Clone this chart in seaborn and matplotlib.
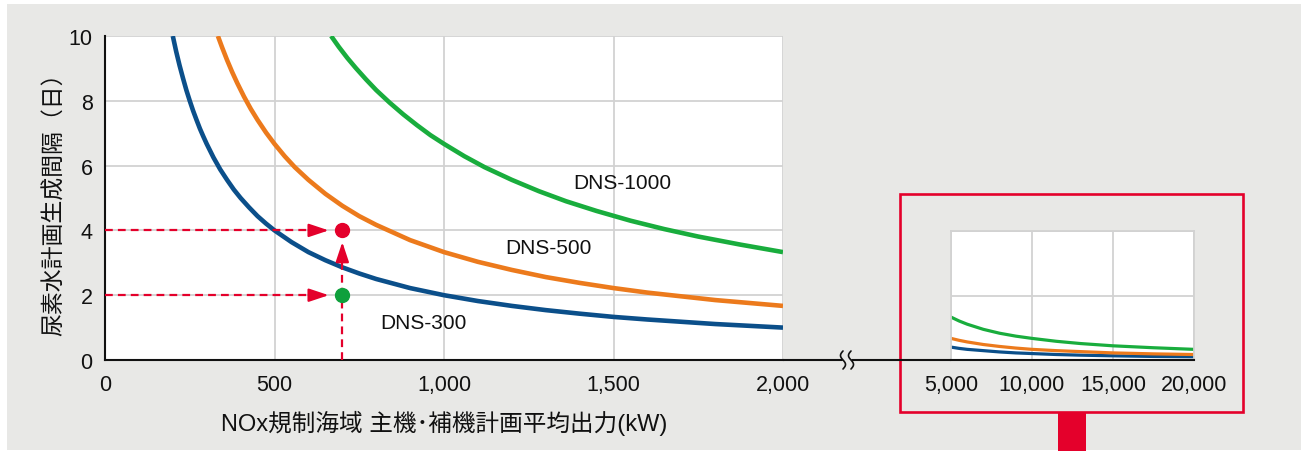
import numpy as np
import pandas as pd
import matplotlib
matplotlib.use('Agg')
import matplotlib.pyplot as plt
import seaborn as sns
from matplotlib.patches import Rectangle
from matplotlib.lines import Line2D
from matplotlib.ticker import FuncFormatter, MultipleLocator

# ==================== データ ====================
dns300_x = [200, 210, 220, 230, 240, 250, 260, 270, 280, 290, 300, 320, 340, 360, 380, 400, 425, 450, 475,
            500, 550, 600, 650, 700, 750, 800, 900, 1000, 1100, 1200, 1300, 1400, 1500, 1600, 1800, 2000]
dns300_y = [10.0, 9.52, 9.09, 8.70, 8.33, 8.0, 7.69, 7.41, 7.14, 6.90, 6.67, 6.25, 5.88, 5.56, 5.26, 5.0, 4.71, 4.44, 4.21,
            4.0, 3.64, 3.33, 3.08, 2.86, 2.67, 2.5, 2.22, 2.0, 1.82, 1.67, 1.54, 1.43, 1.33, 1.25, 1.11, 1.0]
dns500_x = [333, 345, 360, 375, 390, 410, 430, 450, 475, 500, 530, 560, 600, 650, 700, 750, 800, 900,
            1000, 1100, 1200, 1300, 1400, 1500, 1600, 1800, 2000]
dns500_y = [10.0, 9.66, 9.26, 8.89, 8.55, 8.13, 7.75, 7.41, 7.02, 6.67, 6.29, 5.95, 5.56, 5.13, 4.76, 4.44, 4.17, 3.70,
            3.33, 3.03, 2.78, 2.56, 2.38, 2.22, 2.08, 1.85, 1.67]
dns1000_x = [667, 690, 715, 740, 770, 800, 840, 880, 920, 960, 1000, 1060, 1120, 1200, 1280, 1360, 1450,
             1550, 1650, 1750, 1875, 2000]
dns1000_y = [10.0, 9.66, 9.32, 9.01, 8.66, 8.33, 7.94, 7.58, 7.25, 6.94, 6.67, 6.29, 5.95, 5.56, 5.21, 4.90, 4.60,
             4.30, 4.04, 3.81, 3.56, 3.33]

# 拡大部（5,000〜20,000 kW）
inset_x = [5000, 5500, 6000, 7000, 8000, 9000, 10000, 11500, 13000, 15000, 17500, 20000]
inset_300 = [0.40, 0.36, 0.33, 0.29, 0.25, 0.22, 0.20, 0.17, 0.15, 0.13, 0.11, 0.10]
inset_500 = [0.67, 0.61, 0.56, 0.48, 0.42, 0.37, 0.33, 0.29, 0.26, 0.22, 0.19, 0.17]
inset_1000 = [1.33, 1.21, 1.11, 0.95, 0.83, 0.74, 0.67, 0.58, 0.51, 0.44, 0.38, 0.33]

series_names = ['DNS-300', 'DNS-500', 'DNS-1000']
label_pos = {'DNS-300': (940, 1.17), 'DNS-500': (1307, 3.46), 'DNS-1000': (1527, 5.49)}

# 例：700 kW のとき DNS-300 → 2日、DNS-500 → 4日
example_kw = 700
example_days = [2, 4]

colors = {'DNS-300': '#0b4f8a', 'DNS-500': '#ec7a1c', 'DNS-1000': '#19ad3d'}
RED = '#e4002b'
GREEN_DOT = '#0fa03c'
BG = '#e8e8e6'

df_main = pd.concat([
    pd.DataFrame({'kw': dns300_x, 'days': dns300_y, 'model': 'DNS-300'}),
    pd.DataFrame({'kw': dns500_x, 'days': dns500_y, 'model': 'DNS-500'}),
    pd.DataFrame({'kw': dns1000_x, 'days': dns1000_y, 'model': 'DNS-1000'}),
], ignore_index=True)
df_inset = pd.concat([
    pd.DataFrame({'kw': inset_x, 'days': inset_300, 'model': 'DNS-300'}),
    pd.DataFrame({'kw': inset_x, 'days': inset_500, 'model': 'DNS-500'}),
    pd.DataFrame({'kw': inset_x, 'days': inset_1000, 'model': 'DNS-1000'}),
], ignore_index=True)

# ==================== スタイル ====================
sns.set_theme(style='white')
plt.rcParams['font.family'] = ['Liberation Sans', 'Noto Sans CJK JP', 'DejaVu Sans']
plt.rcParams['axes.unicode_minus'] = False

W, H = 1302, 452
fig = plt.figure(figsize=(W / 100, H / 100), dpi=100)
fig.patch.set_facecolor('white')

def fx(px):
    return px / W

def fy(py):
    return 1 - py / H

# 背景の灰色
fig.patches.append(Rectangle((fx(7), fy(451)), fx(1301) - fx(7), fy(5) - fy(451),
                             transform=fig.transFigure, facecolor=BG, edgecolor='none', zorder=-10))

# ==================== メイン ====================
ax = fig.add_axes([fx(105), fy(361), fx(783) - fx(105), fy(37) - fy(361)])
ax.set_facecolor('white')
sns.lineplot(data=df_main, x='kw', y='days', hue='model', hue_order=series_names,
             palette=colors, linewidth=3.3, legend=False, sort=False, ax=ax,
             solid_capstyle='butt', solid_joinstyle='round')
ax.set_xlim(0, 2000)
ax.set_ylim(0, 10)

ax.xaxis.set_major_locator(MultipleLocator(500))
ax.xaxis.set_minor_locator(MultipleLocator(100))
ax.yaxis.set_major_locator(MultipleLocator(2))
ax.yaxis.set_minor_locator(MultipleLocator(0.5))
ax.xaxis.set_major_formatter(FuncFormatter(lambda v, p: f'{v:,.0f}'))
ax.grid(True, which='major', color='#d2d2d2', linewidth=1.3)
ax.set_axisbelow(True)
ax.tick_params(which='major', length=0, labelsize=15.5, colors='#111111')
ax.tick_params(axis='x', which='major', pad=10)
ax.tick_params(axis='y', which='major', pad=9)
ax.tick_params(which='minor', direction='in', length=6, width=1, color='#9a9a9a')
for s in ['top', 'right']:
    ax.spines[s].set_visible(False)
for s in ['left', 'bottom']:
    ax.spines[s].set_color('#111111')
    ax.spines[s].set_linewidth(1.5)

ax.set_xlabel('NOx規制海域 主機･補機計画平均出力(kW)', fontsize=17, labelpad=11, color='#111111')
ax.set_ylabel('尿素水計画生成間隔（日）', fontsize=16.5, color='#111111', va='center')
ax.yaxis.set_label_coords(-0.074, 0.5)

for name in series_names:
    lx, ly = label_pos[name]
    ax.text(lx, ly, name, ha='center', va='center', fontsize=15, color='#111111')

# 赤い破線矢印
dash = (0, (3.5, 2.3))
for d in example_days:
    ax.plot([0, 612], [d, d], color=RED, lw=1.6, linestyle=dash, zorder=5)
    ax.annotate('', xy=(660, d), xytext=(608, d),
                arrowprops=dict(arrowstyle='-|>,head_length=0.6,head_width=0.2',
                                color=RED, lw=1.6, shrinkA=0, shrinkB=0,
                                mutation_scale=20), zorder=5)
ax.plot([example_kw, example_kw], [0, 3.25], color=RED, lw=1.6, linestyle=dash, zorder=5)
ax.annotate('', xy=(example_kw, 3.64), xytext=(example_kw, 3.2),
            arrowprops=dict(arrowstyle='-|>,head_length=0.6,head_width=0.2',
                            color=RED, lw=1.6, shrinkA=0, shrinkB=0,
                            mutation_scale=20), zorder=5)
ax.plot([example_kw], [example_days[1]], 'o', color=RED, markersize=10, zorder=6)
ax.plot([example_kw], [example_days[0]], 'o', color=GREEN_DOT, markersize=10, zorder=6)

# ==================== 拡大部 ====================
ax2 = fig.add_axes([fx(951), fy(361), fx(1194) - fx(951), fy(232) - fy(361)])
ax2.set_facecolor('white')
sns.lineplot(data=df_inset, x='kw', y='days', hue='model', hue_order=series_names,
             palette=colors, linewidth=2.3, legend=False, sort=False, ax=ax2,
             solid_joinstyle='round')
ax2.set_xlim(5000, 20000)
ax2.set_ylim(0, 4)
ax2.set_xticks([5000, 10000, 15000, 20000])
ax2.set_yticks([0, 2, 4])
ax2.set_yticklabels([])
ax2.xaxis.set_major_formatter(FuncFormatter(lambda v, p: f'{v:,.0f}'))
ax2.grid(True, color='#d2d2d2', linewidth=1.3)
ax2.set_axisbelow(True)
ax2.tick_params(length=0, labelsize=15.5, colors='#111111')
ax2.tick_params(axis='x', pad=10)
ax2.set_xlabel('')
ax2.set_ylabel('')
for s in ['top', 'right', 'left']:
    ax2.spines[s].set_color('#d2d2d2')
    ax2.spines[s].set_linewidth(1.3)
ax2.spines['bottom'].set_color('#111111')
ax2.spines['bottom'].set_linewidth(1.5)

# ==================== 軸の省略記号と枠 ====================
base_y = fy(361)
fig.add_artist(Line2D([fx(783), fx(842)], [base_y, base_y], color='#111111', lw=1.5,
                      transform=fig.transFigure))
fig.add_artist(Line2D([fx(852), fx(951)], [base_y, base_y], color='#111111', lw=1.5,
                      transform=fig.transFigure))
t = np.linspace(0, 1, 40)
for x0 in [843, 851]:
    xs = [fx(x0 - 2.5 * np.sin(2 * np.pi * v)) for v in t]
    ys = [fy(352 + 18 * v) for v in t]
    fig.add_artist(Line2D(xs, ys, color='#111111', lw=1.2, transform=fig.transFigure))

fig.add_artist(Rectangle((fx(900), fy(413)), fx(1243) - fx(900), fy(195) - fy(413),
                         transform=fig.transFigure, facecolor='none', edgecolor=RED, lw=1.9))
fig.add_artist(Rectangle((fx(1058), fy(452)), fx(1086) - fx(1058), fy(413) - fy(452),
                         transform=fig.transFigure, facecolor=RED, edgecolor='none'))

fig.savefig('out.png', dpi=100, facecolor=fig.get_facecolor())
